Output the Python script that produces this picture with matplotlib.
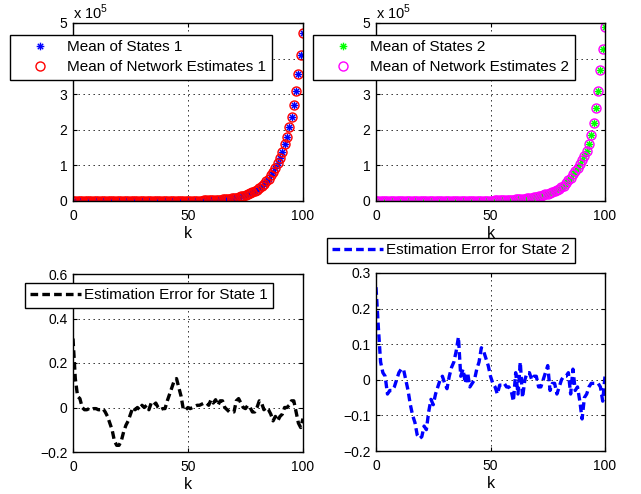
import numpy as np
import matplotlib
matplotlib.use("Agg")
import matplotlib.pyplot as plt
from matplotlib.ticker import FuncFormatter
from matplotlib.path import Path

plt.rcParams['font.family'] = ['Liberation Sans', 'DejaVu Sans']
plt.rcParams['mathtext.fontset'] = 'custom'
plt.rcParams['mathtext.rm'] = 'Liberation Sans'
plt.rcParams['lines.scale_dashes'] = False

# time index
k = np.arange(101)

# mean of states (units of 1e5)
states1 = [0.0001, 0.0001, 0.0001, 0.0001, 0.0001, 0.0001, 0.0001, 0.0001, 0.0001, 0.0001,
           0.0001, 0.0001, 0.0001, 0.0001, 0.0001, 0.0001, 0.0001, 0.0001, 0.0001, 0.0001,
           0.0002, 0.0002, 0.0002, 0.0002, 0.0002, 0.0002, 0.0003, 0.0003, 0.0003, 0.0004,
           0.0004, 0.0005, 0.0005, 0.0006, 0.0007, 0.0008, 0.0009, 0.0011, 0.0012, 0.0014,
           0.0016, 0.0018, 0.0021, 0.0024, 0.0027, 0.0031, 0.0035, 0.0040, 0.0046, 0.0052,
           0.0059, 0.0068, 0.0077, 0.0088, 0.0100, 0.0114, 0.0130, 0.0148, 0.0169, 0.0193,
           0.022, 0.026, 0.029, 0.034, 0.038, 0.044, 0.050, 0.057, 0.065, 0.075,
           0.085, 0.097, 0.111, 0.127, 0.145, 0.165, 0.19, 0.215, 0.245, 0.28,
           0.32, 0.37, 0.42, 0.48, 0.55, 0.63, 0.72, 0.82, 0.94, 1.07,
           1.22, 1.39, 1.59, 1.81, 2.07, 2.35, 2.70, 3.10, 3.57, 4.10,
           4.71]
states2 = [0.0001, 0.0001, 0.0001, 0.0001, 0.0002, 0.0002, 0.0002, 0.0002, 0.0002, 0.0003,
           0.0003, 0.0003, 0.0003, 0.0004, 0.0004, 0.0004, 0.0005, 0.0005, 0.0006, 0.0006,
           0.0007, 0.0007, 0.0008, 0.0008, 0.0009, 0.0009, 0.0010, 0.0011, 0.0012, 0.0013,
           0.0013, 0.0014, 0.0016, 0.0018, 0.0020, 0.0022, 0.0025, 0.0028, 0.0032, 0.0036,
           0.0040, 0.0045, 0.0050, 0.0060, 0.0065, 0.0070, 0.0080, 0.0090, 0.010, 0.011,
           0.013, 0.014, 0.016, 0.018, 0.020, 0.022, 0.025, 0.028, 0.032, 0.036,
           0.040, 0.045, 0.050, 0.056, 0.063, 0.070, 0.078, 0.087, 0.097, 0.108,
           0.12, 0.135, 0.15, 0.17, 0.19, 0.21, 0.23, 0.25, 0.28, 0.31,
           0.34, 0.38, 0.43, 0.50, 0.58, 0.66, 0.75, 0.84, 0.94, 1.04,
           1.15, 1.27, 1.41, 1.60, 1.85, 2.18, 2.60, 3.10, 3.68, 4.27,
           4.88]

# estimation errors
err1 = [0.31, 0.13, 0.05, 0.04, 0.00, -0.01, -0.01, -0.005, -0.01, -0.005,
        -0.005, -0.01, -0.01, -0.005, -0.02, -0.04, -0.07, -0.10, -0.15, -0.17,
        -0.17, -0.15, -0.11, -0.08, -0.06, -0.03, 0.00, -0.01, 0.00, -0.01,
        0.01, 0.00, 0.01, -0.01, 0.02, 0.01, 0.02, 0.00, -0.01, -0.005,
        -0.005, 0.03, 0.06, 0.09, 0.12, 0.13, 0.09, 0.05, -0.01, -0.01,
        0.00, -0.005, 0.00, 0.005, 0.01, 0.01, 0.015, 0.02, 0.02, 0.01,
        0.035, 0.02, 0.035, 0.01, 0.03, 0.03, 0.00, -0.01, -0.02, -0.02,
        -0.02, 0.03, 0.04, 0.02, 0.00, -0.005, 0.01, 0.00, -0.02, -0.02,
        0.00, 0.03, 0.02, -0.01, 0.00, -0.01, -0.03, -0.06, -0.04, -0.06,
        -0.04, -0.03, 0.00, 0.00, 0.01, 0.03, 0.03, -0.02, -0.07, -0.09,
        -0.05]
err2 = [0.26, 0.15, 0.05, 0.02, 0.01, -0.04, -0.03, -0.03, -0.02, 0.00,
        0.02, 0.03, 0.03, 0.00, -0.03, -0.07, -0.10, -0.12, -0.155, -0.165,
        -0.16, -0.13, -0.14, -0.09, -0.055, -0.07, -0.04, -0.02, 0.00, 0.01,
        -0.01, -0.025, 0.01, 0.035, 0.05, 0.08, 0.12, 0.01, 0.03, -0.01,
        0.02, -0.02, -0.01, 0.00, 0.03, 0.05, 0.09, 0.08, 0.06, 0.04,
        0.01, -0.01, -0.02, -0.04, -0.015, -0.015, -0.01, -0.02, -0.02, -0.03,
        -0.06, 0.02, -0.04, 0.05, -0.05, 0.00, 0.02, 0.02, 0.00, 0.01,
        0.01, -0.02, -0.02, 0.00, 0.02, 0.04, -0.03, -0.01, -0.01, -0.04,
        -0.02, 0.00, 0.01, 0.01, 0.02, -0.04, 0.03, -0.03, -0.02, -0.06,
        -0.11, -0.05, -0.04, -0.02, -0.01, -0.01, -0.01, -0.01, -0.02, -0.06,
        0.01]

# network estimates = states minus the error (error is tiny next to 1e5)
est1 = np.array(states1) - np.array(err1) / 1e5
est2 = np.array(states2) - np.array(err2) / 1e5

W, H = 641, 494
fig = plt.figure(figsize=(W / 100, H / 100), dpi=100)


def box(l, t, r, b):
    return [l / W, 1 - b / H, (r - l) / W, (b - t) / H]


fmt = FuncFormatter(lambda v, p: ('%g' % round(v, 3)).replace('-', '\u2212'))


def style(ax, yt):
    ax.set_xlim(0, 100)
    ax.set_xticks([0, 50, 100])
    ax.set_yticks(yt)
    ax.set_ylim(yt[0], yt[-1])
    ax.yaxis.set_major_formatter(fmt)
    ax.tick_params(direction='in', length=3, top=True, right=True,
                   labelsize=10, pad=4)
    ax.tick_params(axis='x', pad=6)
    ax.grid(True, color='k', linestyle=(0, (1, 2.6)), linewidth=0.6)
    for s in ax.spines.values():
        s.set_linewidth(1.0)
    ax.set_xlabel('k', fontsize=11.5, labelpad=2)


def leg(ax, l, t, **kw):
    lg = ax.legend(loc='upper left', bbox_to_anchor=(l / W, 1 - t / H),
                   bbox_transform=fig.transFigure, borderaxespad=0,
                   fancybox=False, framealpha=1, fontsize=11, **kw)
    lg.get_frame().set_edgecolor('k')
    lg.get_frame().set_linewidth(1.0)
    return lg


# MATLAB-like asterisk: "+" and "x" on top of each other
ang = np.deg2rad(np.arange(0, 360, 45))
verts, codes = [], []
for a in ang:
    verts += [(0, 0), (np.cos(a), np.sin(a))]
    codes += [Path.MOVETO, Path.LINETO]
ast = Path(verts, codes)

# top left
ax1 = fig.add_axes(box(73, 23, 303, 201))
ax1.plot(k, states1, linestyle='none', marker=ast, ms=5.5, mew=1.0, color='b',
         label='Mean of States 1')
ax1.plot(k, est1, linestyle='none', marker='o', ms=6.5, mew=1.0, mfc='none',
         mec='r', label='Mean of Network Estimates 1')
style(ax1, [0, 1, 2, 3, 4, 5])
ax1.text(0, 1.02, r'x 10$^{5}$', transform=ax1.transAxes, fontsize=10.5)
leg(ax1, 10, 35, numpoints=1, borderpad=0.35, handlelength=3.2,
    handletextpad=0.2, labelspacing=0.4)

# top right
ax2 = fig.add_axes(box(376, 23, 605, 201))
ax2.plot(k, states2, linestyle='none', marker=ast, ms=5.5, mew=1.0,
         color=(0, 1, 0), label='Mean of States 2')
ax2.plot(k, est2, linestyle='none', marker='o', ms=6.5, mew=1.0, mfc='none',
         mec=(1, 0, 1), label='Mean of Network Estimates 2')
style(ax2, [0, 1, 2, 3, 4, 5])
ax2.text(0, 1.02, r'x 10$^{5}$', transform=ax2.transAxes, fontsize=10.5)
leg(ax2, 313, 35, numpoints=1, borderpad=0.35, handlelength=3.2,
    handletextpad=0.2, labelspacing=0.4)

# bottom left
ax3 = fig.add_axes(box(73, 274, 303, 452))
ax3.plot(k, err1, color='k', linewidth=2.4, dashes=(5.5, 3),
         label='Estimation Error for State 1')
style(ax3, [-0.2, 0, 0.2, 0.4, 0.6])
leg(ax3, 25, 283, borderpad=0.35, handlelength=3.3, handletextpad=0.2)

# bottom right
ax4 = fig.add_axes(box(376, 273, 605, 451))
ax4.plot(k, err2, color='b', linewidth=2.4, dashes=(5.5, 3),
         label='Estimation Error for State 2')
style(ax4, [-0.2, -0.1, 0, 0.1, 0.2, 0.3])
leg(ax4, 327, 238, borderpad=0.35, handlelength=3.3, handletextpad=0.2)

plt.savefig('out.png', dpi=100)
